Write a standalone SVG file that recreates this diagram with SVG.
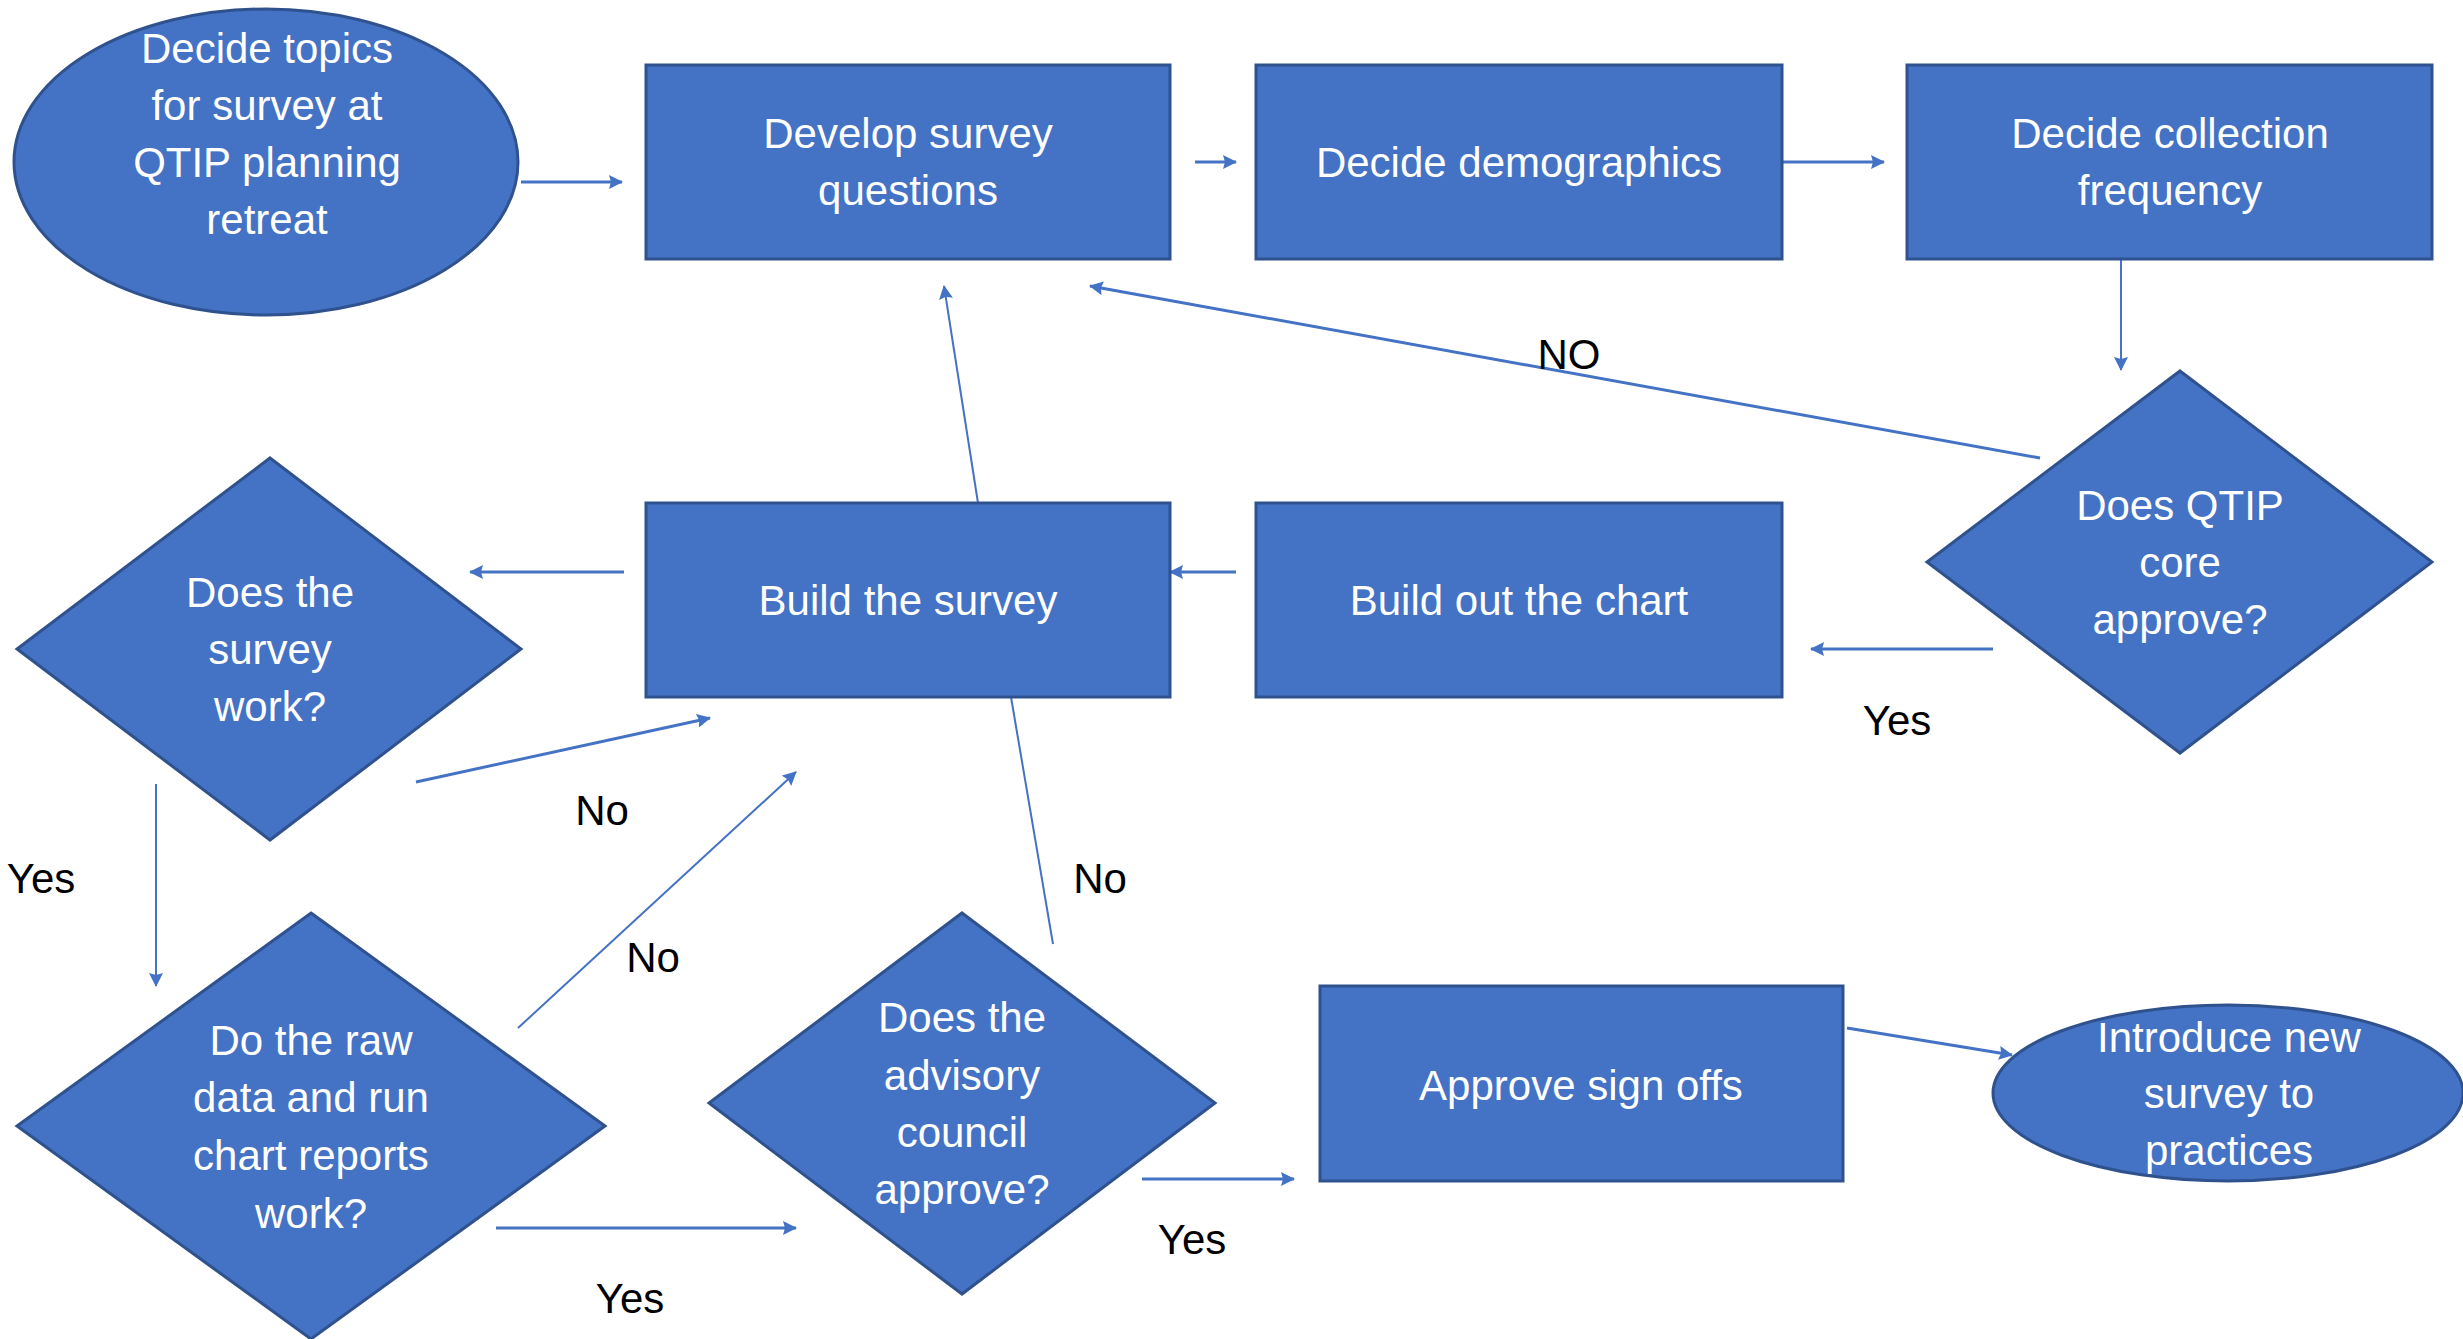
<svg xmlns="http://www.w3.org/2000/svg" width="2463" height="1339" viewBox="0 0 2463 1339">
<defs>
<style>
.n{fill:#4472C4;stroke:#2F528F;stroke-width:3}
.t{font-family:"Liberation Sans",Arial,sans-serif;font-size:42px;fill:#ffffff;text-anchor:middle}
.l{font-family:"Liberation Sans",Arial,sans-serif;font-size:42px;fill:#000000;text-anchor:middle}
.c{stroke:#4472C4;stroke-width:3;fill:none}
.c2{stroke:#4472C4;stroke-width:2;fill:none}
</style>
<marker id="ah" markerUnits="userSpaceOnUse" markerWidth="14" markerHeight="14" refX="13" refY="7" orient="auto">
<path d="M0,0 L14,7 L0,14 L2,7 z" fill="#4472C4"/>
</marker>
</defs>
<rect width="2463" height="1339" fill="#ffffff"/>

<g id="connectors">
<line class="c" x1="521" y1="182" x2="622" y2="182" marker-end="url(#ah)"/>
<line class="c" x1="1195" y1="162" x2="1236" y2="162" marker-end="url(#ah)"/>
<line class="c" x1="1782" y1="162" x2="1884" y2="162" marker-end="url(#ah)"/>
<line class="c2" x1="2121" y1="259" x2="2121" y2="370" marker-end="url(#ah)"/>
<line class="c" x1="2040" y1="458" x2="1090" y2="286" marker-end="url(#ah)"/>
<line class="c" x1="1993" y1="649" x2="1811" y2="649" marker-end="url(#ah)"/>
<line class="c" x1="1236" y1="572" x2="1170" y2="572" marker-end="url(#ah)"/>
<line class="c2" x1="978" y1="503" x2="944" y2="286" marker-end="url(#ah)"/>
<line class="c" x1="624" y1="572" x2="470" y2="572" marker-end="url(#ah)"/>
<line class="c" x1="416" y1="782" x2="710" y2="718" marker-end="url(#ah)"/>
<line class="c2" x1="156" y1="784" x2="156" y2="986" marker-end="url(#ah)"/>
<line class="c2" x1="518" y1="1028" x2="796" y2="772" marker-end="url(#ah)"/>
<line class="c" x1="496" y1="1228" x2="796" y2="1228" marker-end="url(#ah)"/>
<line class="c2" x1="1011" y1="697" x2="1053" y2="944"/>
<line class="c" x1="1142" y1="1179" x2="1294" y2="1179" marker-end="url(#ah)"/>
<line class="c" x1="1847" y1="1028" x2="2012" y2="1055" marker-end="url(#ah)"/>
</g>

<g id="n-decide-topics">
<ellipse class="n" cx="266" cy="162" rx="252" ry="153"/>
<text class="t" x="267" y="63">Decide topics</text>
<text class="t" x="267" y="120">for survey at</text>
<text class="t" x="267" y="177">QTIP planning</text>
<text class="t" x="267" y="234">retreat</text>
</g>

<g id="n-develop">
<rect class="n" x="646" y="65" width="524" height="194"/>
<text class="t" x="908" y="148">Develop survey</text>
<text class="t" x="908" y="205">questions</text>
</g>

<g id="n-demographics">
<rect class="n" x="1256" y="65" width="526" height="194"/>
<text class="t" x="1519" y="177">Decide demographics</text>
</g>

<g id="n-frequency">
<rect class="n" x="1907" y="65" width="525" height="194"/>
<text class="t" x="2170" y="148">Decide collection</text>
<text class="t" x="2170" y="205">frequency</text>
</g>

<g id="n-qtip">
<polygon class="n" points="2180,371 2432,562 2180,753 1927,562"/>
<text class="t" x="2180" y="520">Does QTIP</text>
<text class="t" x="2180" y="577">core</text>
<text class="t" x="2180" y="634">approve?</text>
</g>

<g id="n-chart">
<rect class="n" x="1256" y="503" width="526" height="194"/>
<text class="t" x="1519" y="615">Build out the chart</text>
</g>

<g id="n-build">
<rect class="n" x="646" y="503" width="524" height="194"/>
<text class="t" x="908" y="615">Build the survey</text>
</g>

<g id="n-survey-work">
<polygon class="n" points="270,458 521,649 270,840 17,649"/>
<text class="t" x="270" y="607">Does the</text>
<text class="t" x="270" y="664">survey</text>
<text class="t" x="270" y="721">work?</text>
</g>

<g id="n-raw-data">
<polygon class="n" points="311,913 605,1126 311,1339 17,1126"/>
<text class="t" x="311" y="1055">Do the raw</text>
<text class="t" x="311" y="1112">data and run</text>
<text class="t" x="311" y="1170">chart reports</text>
<text class="t" x="311" y="1228">work?</text>
</g>

<g id="n-advisory">
<polygon class="n" points="962,913 1215,1103 962,1294 709,1103"/>
<text class="t" x="962" y="1032">Does the</text>
<text class="t" x="962" y="1090">advisory</text>
<text class="t" x="962" y="1147">council</text>
<text class="t" x="962" y="1204">approve?</text>
</g>

<g id="n-approve">
<rect class="n" x="1320" y="986" width="523" height="195"/>
<text class="t" x="1581" y="1100">Approve sign offs</text>
</g>

<g id="n-introduce">
<ellipse class="n" cx="2228" cy="1093" rx="235" ry="88"/>
<text class="t" x="2229" y="1052">Introduce new</text>
<text class="t" x="2229" y="1108">survey to</text>
<text class="t" x="2229" y="1165">practices</text>
</g>

<g id="labels">
<text class="l" x="1569" y="369">NO</text>
<text class="l" x="1897" y="735">Yes</text>
<text class="l" x="602" y="825">No</text>
<text class="l" x="41" y="893">Yes</text>
<text class="l" x="653" y="972">No</text>
<text class="l" x="1100" y="893">No</text>
<text class="l" x="630" y="1313">Yes</text>
<text class="l" x="1192" y="1254">Yes</text>
</g>
</svg>
